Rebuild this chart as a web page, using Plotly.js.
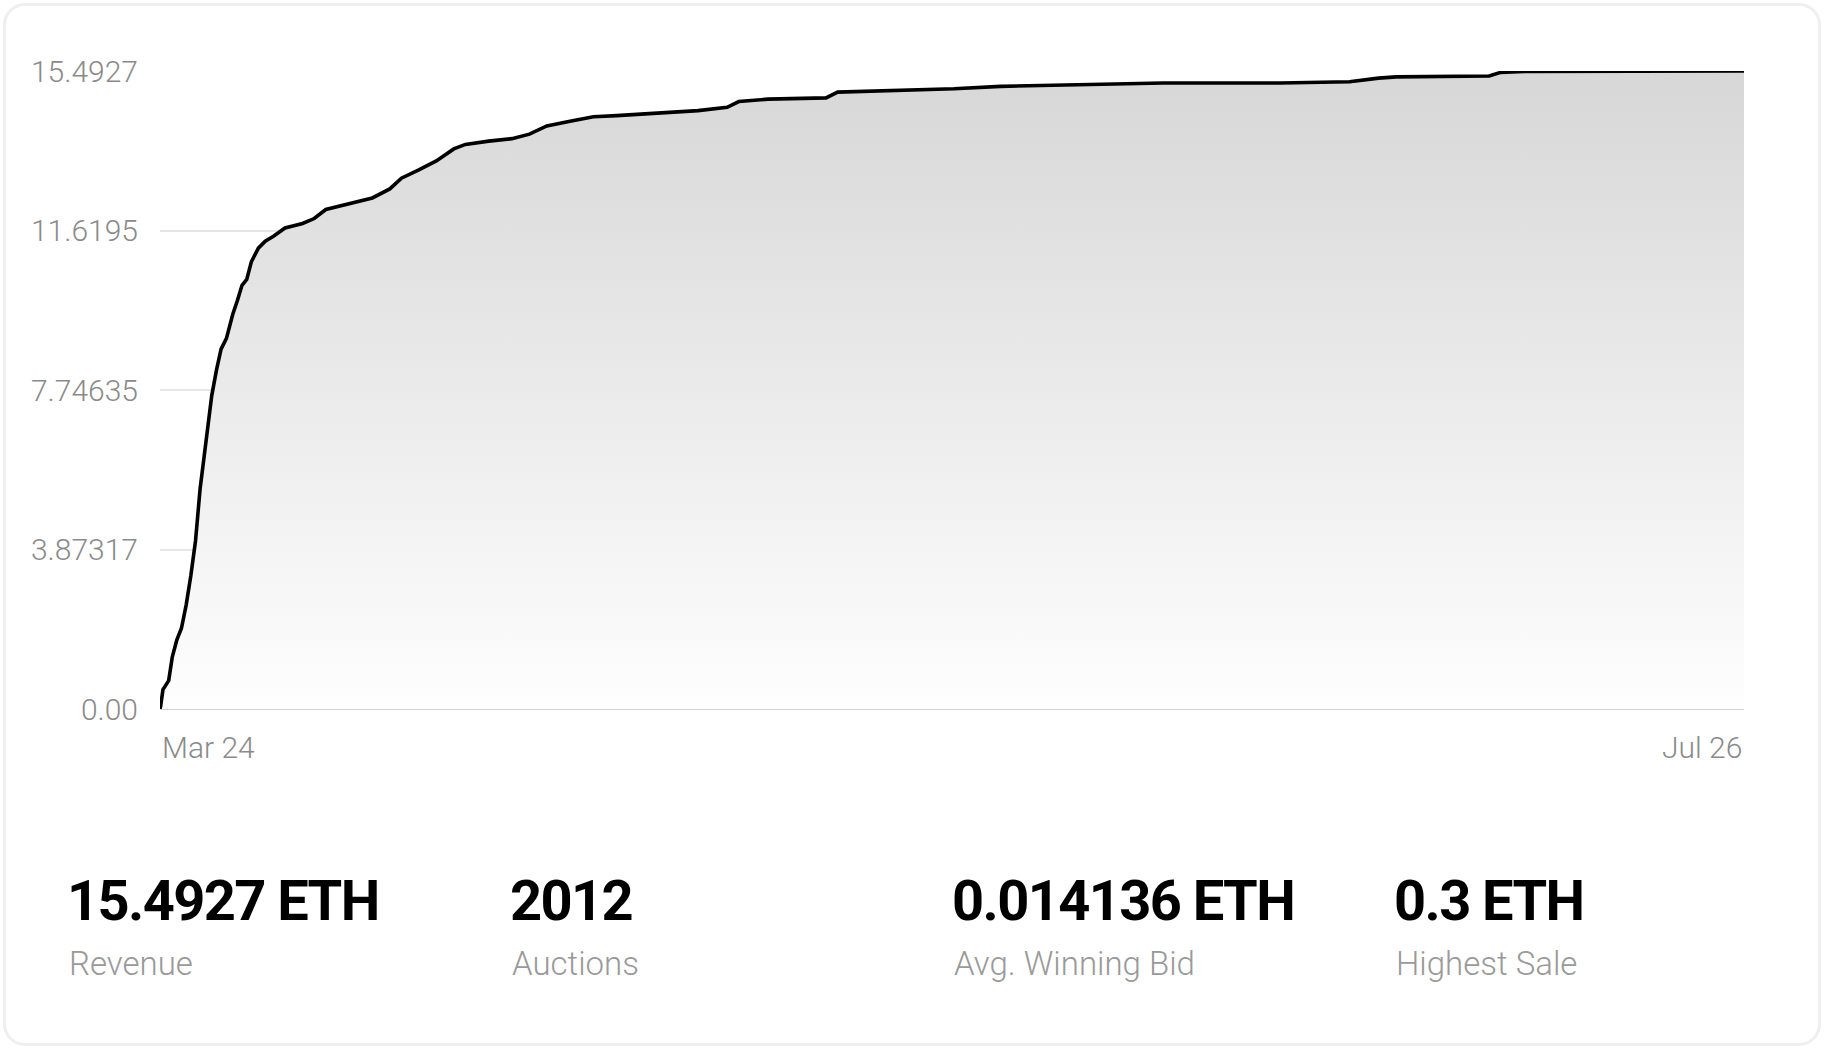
<!DOCTYPE html>
<html>
<head>
<meta charset="utf-8">
<script src="https://cdn.plot.ly/plotly-3.0.1.min.js"></script>
<style>
  html, body { margin: 0; padding: 0; background: #ffffff; width: 1824px; height: 1050px; overflow: hidden; }
  #card { position: absolute; left: 3px; top: 3px; width: 1812px; height: 1037px; border: 3px solid #efefef; border-radius: 22px; background: #ffffff; }
  #chart { position: absolute; left: 0; top: 0; width: 1824px; height: 1050px; }
  .stat { position: absolute; font-family: Roboto, "Noto Sans", sans-serif; }
  .stat .val { position: absolute; left: 0; top: 0; font-size: 56px; font-weight: 700; color: #000; line-height: 1; white-space: nowrap; letter-spacing: -1.6px; }
  .stat .lab { position: absolute; left: 2px; top: 74px; font-size: 33px; font-weight: 300; color: #999999; line-height: 1; white-space: nowrap; }
</style>
</head>
<body>
<div id="card"></div>
<div id="chart"></div>
<div id="stats"></div>
<script>
// ---- data ----
const dates = [
  "2022-03-24 00:00", "2022-03-24 01:12", "2022-03-24 05:31", "2022-03-24 16:19", "2022-03-24 23:02",
  "2022-03-25 07:41", "2022-03-25 16:19", "2022-03-26 01:12", "2022-03-26 09:50", "2022-03-26 18:43",
  "2022-03-27 03:22", "2022-03-27 10:05", "2022-03-27 16:34", "2022-03-28 01:12", "2022-03-28 10:05",
  "2022-03-28 18:43", "2022-03-29 04:48", "2022-03-29 16:34", "2022-03-30 01:26", "2022-03-30 10:05",
  "2022-03-30 18:58", "2022-03-31 03:36", "2022-03-31 16:48", "2022-04-01 05:46", "2022-04-01 21:07",
  "2022-04-02 18:58", "2022-04-04 03:50", "2022-04-05 01:41", "2022-04-05 23:31", "2022-04-07 19:12",
  "2022-04-09 14:53", "2022-04-10 23:46", "2022-04-11 21:36", "2022-04-13 06:14", "2022-04-14 15:07",
  "2022-04-16 00:00", "2022-04-16 21:50", "2022-04-18 17:31", "2022-04-20 13:12", "2022-04-21 22:05",
  "2022-04-23 06:43", "2022-04-25 02:24", "2022-04-26 22:19", "2022-04-28 18:00", "2022-05-01 11:31",
  "2022-05-05 02:53", "2022-05-07 09:36", "2022-05-08 07:26", "2022-05-10 14:10", "2022-05-15 03:22",
  "2022-05-16 01:12", "2022-05-19 16:34", "2022-05-25 03:50", "2022-05-28 19:12", "2022-06-04 04:19",
  "2022-06-10 13:12", "2022-06-19 15:50", "2022-06-25 02:53", "2022-06-27 09:36", "2022-06-28 18:29",
  "2022-07-06 01:12", "2022-07-06 23:02", "2022-07-08 18:58", "2022-07-26 00:00"
];
const revenue = [
  0.00, 0.07, 0.47, 0.69, 1.26,
  1.68, 1.96, 2.53, 3.23, 4.08,
  5.35, 6.06, 6.82, 7.61, 8.23,
  8.74, 9.00, 9.58, 9.92, 10.29,
  10.43, 10.86, 11.19, 11.36, 11.48,
  11.68, 11.79, 11.91, 12.13, 12.27,
  12.41, 12.63, 12.89, 13.09, 13.31,
  13.60, 13.71, 13.79, 13.85, 13.96,
  14.16, 14.27, 14.38, 14.41, 14.47,
  14.53, 14.61, 14.75, 14.81, 14.84,
  14.98, 15.01, 15.06, 15.12, 15.15,
  15.20, 15.20, 15.23, 15.32, 15.35,
  15.37, 15.46, 15.48, 15.4927
];
const yTickVals = [0, 3.87317, 7.74635, 11.6195, 15.4927];
const yTickText = ["0.00", "3.87317", "7.74635", "11.6195", "15.4927"];
const xLabels = ["Mar 24", "Jul 26"];
const statValues = ["15.4927 ETH", "2012", "0.014136 ETH", "0.3 ETH"];
const statLabels = ["Revenue", "Auctions", "Avg. Winning Bid", "Highest Sale"];

// ---- chart ----
const trace = {
  x: dates,
  y: revenue,
  type: "scatter",
  mode: "lines",
  line: { color: "#000000", width: 3.6, shape: "linear" },
  fill: "tozeroy",
  fillgradient: {
    type: "vertical",
    start: 0,
    stop: yTickVals[yTickVals.length - 1],
    colorscale: [[0, "#fefefe"], [1, "#d7d7d7"]]
  },
  cliponaxis: false,
  hoverinfo: "skip"
};

const tickFont = { family: "Roboto, 'Noto Sans', sans-serif", size: 30, color: "#8a8a8a", weight: 300 };

const layout = {
  width: 1824,
  height: 1050,
  margin: { l: 160, r: 80, t: 71, b: 341 },
  paper_bgcolor: "rgba(0,0,0,0)",
  plot_bgcolor: "rgba(0,0,0,0)",
  showlegend: false,
  xaxis: {
    type: "date",
    range: [dates[0], dates[dates.length - 1]],
    showgrid: false,
    zeroline: false,
    showline: false,
    showticklabels: false,
    ticks: "",
    fixedrange: true
  },
  yaxis: {
    range: [0, yTickVals[yTickVals.length - 1]],
    tickmode: "array",
    tickvals: yTickVals,
    ticktext: yTickText,
    tickfont: tickFont,
    ticks: "outside",
    ticklen: 15,
    tickcolor: "rgba(0,0,0,0)",
    showgrid: true,
    gridcolor: "#e6e6e6",
    gridwidth: 2,
    zeroline: true,
    zerolinecolor: "#d2d2d2",
    zerolinewidth: 2,
    showline: false,
    fixedrange: true
  },
  annotations: [
    { x: dates[0], xref: "x", y: -0.0596, yref: "paper", text: xLabels[0], showarrow: false,
      xanchor: "left", yanchor: "middle", font: tickFont },
    { x: dates[dates.length - 1], xref: "x", y: -0.0596, yref: "paper", text: xLabels[1], showarrow: false,
      xanchor: "right", yanchor: "middle", font: tickFont }
  ]
};

Plotly.newPlot("chart", [trace], layout, { displayModeBar: false, staticPlot: true });

// ---- stats row ----
const statX = [67, 510, 952, 1394];
const stats = document.getElementById("stats");
statValues.forEach(function (v, i) {
  const d = document.createElement("div");
  d.className = "stat";
  d.style.left = statX[i] + "px";
  d.style.top = "873px";
  const a = document.createElement("div");
  a.className = "val";
  a.textContent = v;
  const b = document.createElement("div");
  b.className = "lab";
  b.textContent = statLabels[i];
  d.appendChild(a);
  d.appendChild(b);
  stats.appendChild(d);
});
</script>
</body>
</html>
